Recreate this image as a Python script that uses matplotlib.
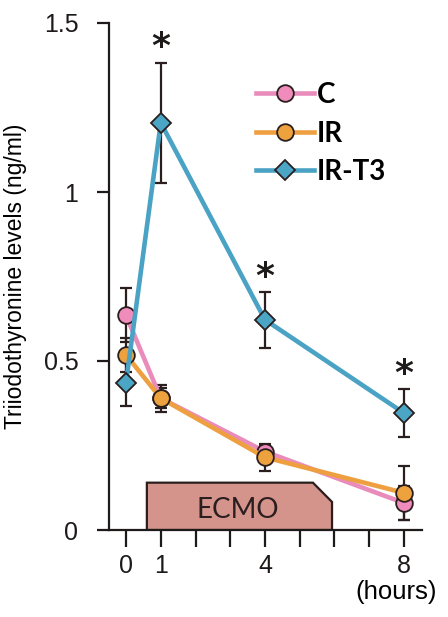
import numpy as np
import matplotlib.pyplot as plt
from matplotlib.patches import Polygon

# ==================== DATA ====================
hours = [0, 1, 4, 8]
c_mean = [0.635, 0.39, 0.232, 0.08]
c_err = [0.08, 0.03, 0.02, 0.05]
ir_mean = [0.518, 0.39, 0.215, 0.11]
ir_err = [0.05, 0.04, 0.04, 0.08]
t3_mean = [0.436, 1.205, 0.622, 0.346]
t3_err = [0.07, 0.178, 0.083, 0.071]
sig_hours = [1, 4, 8]
series_names = ["C", "IR", "IR-T3"]
ecmo_start, ecmo_end = 0.6, 5.93

# ==================== STYLE ====================
plt.rcParams["font.family"] = ["Liberation Sans", "DejaVu Sans"]
line_colors = ["#e98cbb", "#eea040", "#4aa3c4"]
face_colors = ["#ef8cbc", "#eda23e", "#4ba6c6"]
markers = ["o", "o", "D"]
msizes = [12, 12, 10]
edge = "#2a1e1e"

fig = plt.figure(figsize=(4.48, 6.17), dpi=100)
ax = fig.add_axes([109 / 448, 87 / 617, (422 - 109) / 448, (530 - 23) / 617])

# ECMO bar
x_cut = 5.38
poly = Polygon(
    [(ecmo_start, 0), (ecmo_start, 0.14), (x_cut, 0.14), (ecmo_end, 0.083), (ecmo_end, 0)],
    closed=True, facecolor="#d4948c", edgecolor=edge, lw=1.6, zorder=1,
)
ax.add_patch(poly)
ax.text((ecmo_start + ecmo_end) / 2 - 0.05, 0.058, "ECMO", ha="center", va="center",
        fontsize=20, family=["Lato", "DejaVu Sans"], color="#2a1e1e", zorder=2)

means = [c_mean, ir_mean, t3_mean]
errs = [c_err, ir_err, t3_err]

# error bars first
for m, e in zip(means, errs):
    ax.errorbar(hours, m, yerr=e, fmt="none", ecolor=edge, elinewidth=1.6,
                capsize=4, capthick=1.6, zorder=3, clip_on=False)

handles = []
for i, (m, name) in enumerate(zip(means, series_names)):
    (h,) = ax.plot(hours, m, color=line_colors[i], lw=3.3, marker=markers[i],
                   ms=msizes[i], mfc=face_colors[i], mec=edge, mew=1.3,
                   label=name, zorder=4 + i, clip_on=False)
    handles.append(h)

# significance stars
for h in sig_hours:
    idx = hours.index(h)
    ax.text(h, t3_mean[idx] + t3_err[idx] + 0.045, "*", ha="center", va="center",
            fontsize=26, fontweight="bold", family="DejaVu Sans",
            color="#1e1a1a")

ax.set_xlim(-0.49, 8.52)
ax.set_ylim(0, 1.5)
ax.set_xticks(range(0, 9))
ax.set_xticklabels(["0", "1", "", "", "4", "", "", "", "8"])
ax.set_yticks([0, 0.5, 1, 1.5])
ax.set_yticklabels(["0", "0.5", "1", "1.5"])
ax.tick_params(axis="y", direction="out", length=9, width=1.6, pad=13,
               labelsize=18, colors="#1e1a1a")
ax.tick_params(axis="x", direction="out", length=12, width=1.6, pad=5,
               labelsize=18, colors="#1e1a1a")
for s in ["top", "right"]:
    ax.spines[s].set_visible(False)
for s in ["left", "bottom"]:
    ax.spines[s].set_linewidth(1.6)
    ax.spines[s].set_color("#1e1a1a")

ax.set_ylabel("Triiodothyronine levels (ng/ml)", fontsize=16.5, labelpad=12)
fig.text(437 / 448, 1 - 580 / 617, "(hours)", ha="right", va="top", fontsize=18.5)

leg = ax.legend(handles=handles, loc="upper left", bbox_to_anchor=(231 / 448, 1 - 57 / 617),
                bbox_transform=fig.transFigure, frameon=False, handlelength=2.1,
                handletextpad=0.1, labelspacing=0.45,
                prop={"family": ["Lato", "DejaVu Sans"], "weight": "bold", "size": 20})

fig.savefig("out.png", dpi=100)
